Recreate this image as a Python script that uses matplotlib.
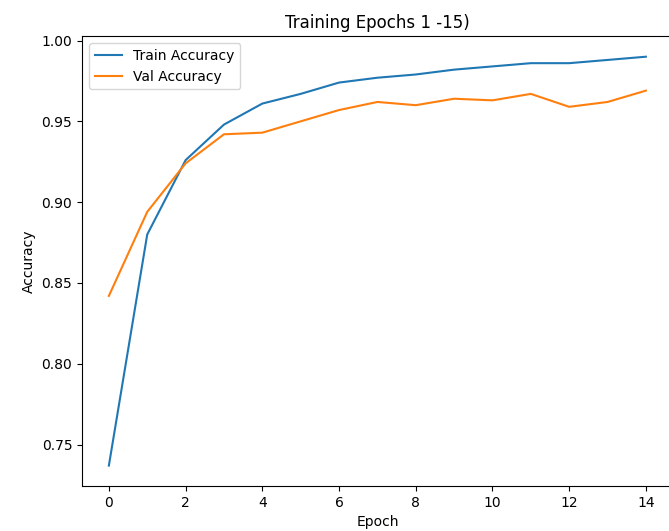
import matplotlib.pyplot as plt

epochs = list(range(15))
train_acc = [0.737, 0.880, 0.926, 0.948, 0.961, 0.967, 0.974, 0.977,
             0.979, 0.982, 0.984, 0.986, 0.986, 0.988, 0.990]
val_acc = [0.842, 0.894, 0.924, 0.942, 0.943, 0.950, 0.957, 0.962,
           0.960, 0.964, 0.963, 0.967, 0.959, 0.962, 0.969]

fig = plt.figure(figsize=(6.69, 5.31), dpi=100)
ax = fig.add_axes([0.1226, 0.0847, 0.883, 0.847])
ax.plot(epochs, train_acc, label='Train Accuracy')
ax.plot(epochs, val_acc, label='Val Accuracy')
ax.set_title('Training Epochs 1 -15)', fontsize=12)
ax.set_xlabel('Epoch')
ax.set_ylabel('Accuracy')
ax.set_xticks(range(0, 15, 2))
ax.legend(loc='upper left')
fig.savefig('out.png', dpi=100)
